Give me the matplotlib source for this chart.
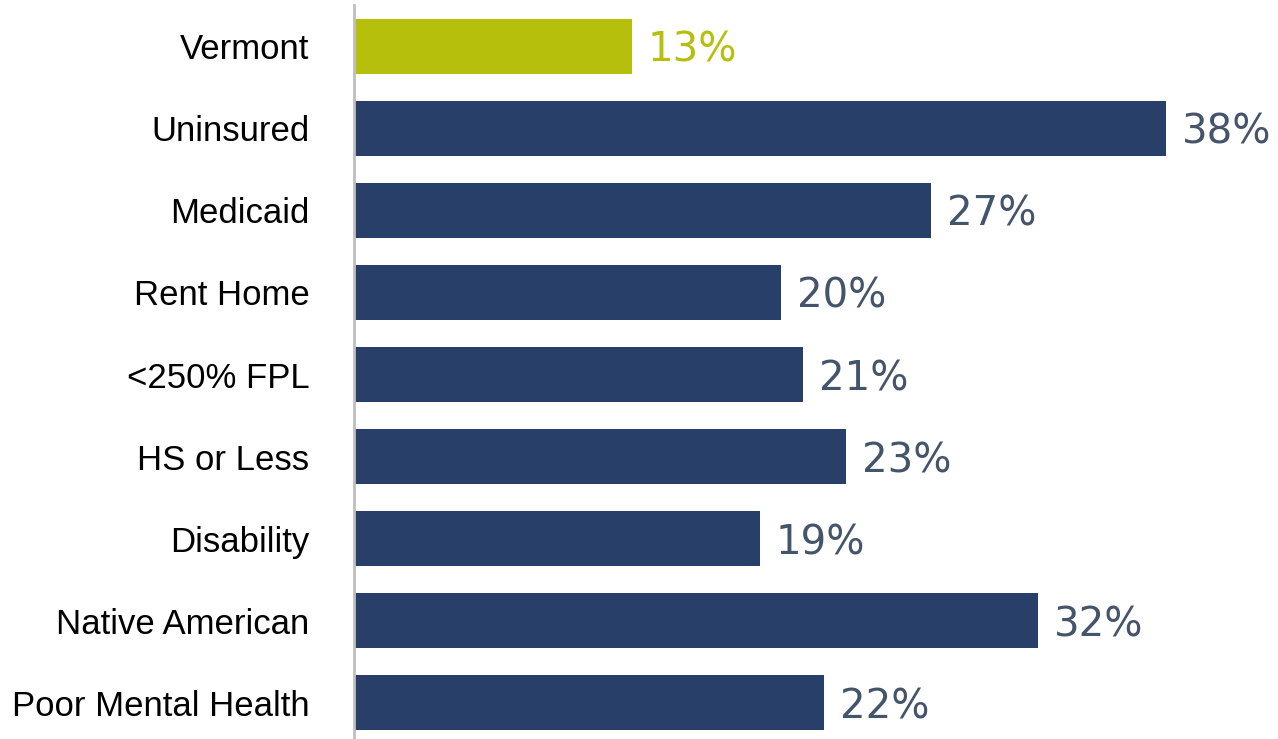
import matplotlib
matplotlib.use('Agg')
import matplotlib.pyplot as plt

categories = ['Vermont', 'Uninsured', 'Medicaid', 'Rent Home', '<250% FPL',
              'HS or Less', 'Disability', 'Native American', 'Poor Mental Health']
values = [13, 38, 27, 20, 21, 23, 19, 32, 22]

NAVY = '#273f69'
GREEN = '#b6bf0b'
LABEL_NAVY = '#44546a'

fig = plt.figure(figsize=(12.78, 7.39), dpi=100)
ax = fig.add_axes([354 / 1278, 0, 924 / 1278, 734 / 739])

colors = [GREEN] + [NAVY] * (len(values) - 1)
pos = list(range(len(categories)))
ax.barh(pos, values, height=0.67, color=colors)

ax.set_xlim(0, 924 / 21.37)
ax.set_ylim(8.445, -0.506)

for i, v in enumerate(values):
    c = GREEN if i == 0 else LABEL_NAVY
    ax.text(v + 0.75, i, f'{v}%', va='center_baseline', ha='left', fontsize=29,
            color=c, family='DejaVu Sans')

ax.set_yticks(pos)
ax.set_yticklabels(categories, fontsize=25, family='Liberation Sans', color='black')
ax.tick_params(axis='y', length=0, pad=32)
ax.set_xticks([])

for s in ['top', 'right', 'bottom']:
    ax.spines[s].set_visible(False)
ax.spines['left'].set_color('#bfbfbf')
ax.spines['left'].set_linewidth(2)

fig.savefig('out.png', dpi=100)
plt.close(fig)
